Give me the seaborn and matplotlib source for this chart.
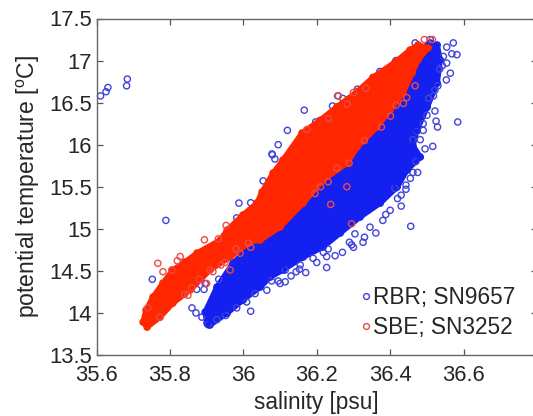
import matplotlib
matplotlib.use("Agg")
import matplotlib.pyplot as plt
import pandas as pd
import seaborn as sns

# Outline of the solid (saturated) part of each cloud
rbr_body_sal = [35.901, 35.896, 35.928, 35.972, 36.010, 36.155, 36.481, 36.509, 36.528, 36.536,
                36.528, 36.501, 36.473, 36.462, 36.482, 36.446, 36.419, 36.373, 36.318, 36.264,
                36.217, 36.163, 36.108, 36.073, 36.046, 35.999, 35.956, 35.909]
rbr_body_tmp = [13.880, 14.010, 14.307, 14.593, 14.748, 15.342, 17.125, 17.209, 17.185, 17.007,
                16.733, 16.448, 16.174, 15.990, 15.853, 15.699, 15.497, 15.306, 15.140, 14.950,
                14.783, 14.664, 14.510, 14.426, 14.307, 14.153, 13.998, 13.856]

sbe_body_sal = [35.727, 35.735, 35.754, 35.781, 35.808, 35.841, 35.874, 35.937, 35.956, 35.999,
                36.037, 36.051, 36.081, 36.108, 36.160, 36.209, 36.255, 36.310, 36.353, 36.413,
                36.454, 36.476, 36.503, 36.476, 36.460, 36.435, 36.400, 36.364, 36.310, 36.283,
                36.217, 36.163, 36.100, 36.046, 36.018, 35.964, 35.909, 35.855, 35.808, 35.773,
                35.738]
sbe_body_tmp = [13.891, 14.034, 14.189, 14.355, 14.510, 14.605, 14.712, 14.866, 14.985, 15.164,
                15.306, 15.437, 15.663, 15.818, 16.139, 16.29, 16.45, 16.63, 16.80, 16.98,
                17.125, 17.185, 17.149, 17.007, 16.852, 16.614, 16.412, 16.210, 15.972, 15.782,
                15.580, 15.306, 15.021, 14.866, 14.842, 14.664, 14.510, 14.272, 14.117, 13.950,
                13.832]

# Individually visible samples
rbr_sal = [35.611, 35.626, 35.631, 35.682, 35.684, 35.988, 36.02, 36.054, 36.078, 35.789,
           35.752, 36.02, 35.86, 35.871, 35.887, 35.873, 35.893, 35.896, 35.933, 35.982,
           36.468, 36.509, 36.572, 36.554, 36.568, 36.582, 36.554, 36.542, 36.564, 36.553,
           36.522, 36.518, 36.522, 36.525, 36.529, 36.584, 36.49, 36.473, 36.462, 36.482,
           36.516, 36.495, 36.475, 36.462, 36.443, 36.443, 36.42, 36.43, 36.413,
           36.372, 36.416, 36.311, 36.271, 36.257, 36.243, 36.166, 36.197, 36.206, 36.12,
           36.095, 36.079, 36.086,
           36.388, 36.456, 36.361, 36.326, 36.289, 36.295, 36.304, 36.231, 36.218, 36.227,
           36.19, 36.227, 36.155, 36.144, 36.153, 36.114, 36.095, 36.077, 36.114,
           35.904, 35.928, 35.952, 35.982, 36.009, 36.032, 36.064,
           36.545, 36.535, 36.530, 36.505, 36.500, 36.490, 36.470, 36.455, 36.430, 36.400,
           36.380, 36.345, 36.330, 36.300, 36.270, 36.250, 36.200, 36.170, 36.130, 36.100]
rbr_tmp = [16.58, 16.63, 16.68, 16.70, 16.78, 15.306, 15.31, 15.57, 15.89, 15.10,
           14.40, 14.02, 14.06, 14.0, 13.95, 14.28, 14.28, 14.35, 14.40, 15.13,
           17.21, 17.25, 17.21, 17.16, 17.08, 17.07, 16.97, 16.94, 16.85, 16.77,
           16.65, 16.58, 16.40, 16.28, 16.21, 16.27, 16.17, 16.16, 16.06, 16.06,
           15.98, 15.95, 15.67, 15.67, 15.52, 15.47, 15.36, 15.27, 15.48,
           16.87, 17.0, 16.66, 16.55, 16.58, 16.46, 16.41, 16.27, 16.20, 16.17,
           16.0, 15.88, 15.83,
           15.17, 15.03, 14.95, 14.84, 14.84, 14.81, 14.94, 14.76, 14.72, 14.67,
           14.65, 14.54, 14.57, 14.49, 14.52, 14.37, 14.38, 14.38, 14.51,
           13.86, 13.92, 13.97, 14.06, 14.13, 14.23, 14.27,
           17.05, 16.90, 16.70, 16.55, 16.35, 16.25, 15.80, 15.60, 15.40, 15.22,
           15.10, 15.02, 14.90, 14.78, 14.72, 14.68, 14.60, 14.48, 14.44, 14.35]

sbe_sal = [35.767, 35.781, 35.828, 35.894, 35.932, 35.953, 35.74, 35.773, 35.805, 35.849,
           35.9, 35.917, 35.964, 35.939, 36.014, 35.991, 35.909,
           36.493, 36.515, 36.468, 36.445, 36.436, 36.416, 36.401, 36.376, 36.288, 36.282,
           36.238, 36.195, 36.231, 36.295, 36.259, 36.3, 36.283, 36.232, 36.173, 36.334,
           35.86, 35.84, 35.88, 35.82, 35.95, 35.98, 36.02, 36.33, 36.255, 36.21]
sbe_tmp = [14.59, 14.49, 14.67, 14.87, 14.88, 15.04, 14.06, 13.95, 14.51, 14.21,
           14.35, 14.49, 14.51, 14.57, 14.83, 14.71, 14.51,
           17.25, 17.25, 16.70, 16.56, 16.49, 16.47, 16.34, 16.21, 15.78, 15.50,
           15.29, 15.42, 15.56, 15.06, 16.58, 16.62, 16.48, 16.31, 16.18, 16.67,
           14.30, 14.22, 14.40, 14.62, 14.60, 14.76, 14.78, 16.05, 15.72, 15.50]

x_ticks = [35.6, 35.8, 36.0, 36.2, 36.4, 36.6]
x_labels = ["35.6", "35.8", "36", "36.2", "36.4", "36.6"]
y_ticks = [13.5, 14, 14.5, 15, 15.5, 16, 16.5, 17, 17.5]
y_labels = ["13.5", "14", "14.5", "15", "15.5", "16", "16.5", "17", "17.5"]

BLUE = "#1420f0"
RED = "#ff2600"
RING_BLUE = "#4144d8"
RING_RED = "#ee4a44"
INK = "#262626"

sns.set_theme(style="ticks")
plt.rcParams["font.family"] = ["Liberation Sans", "DejaVu Sans"]
plt.rcParams["mathtext.fontset"] = "custom"
plt.rcParams["mathtext.rm"] = "Liberation Sans"

fig = plt.figure(figsize=(5.33, 4.16), dpi=100)
ax = fig.add_axes([96.5 / 533, 1 - 355 / 416, 440.5 / 533, 336.5 / 416])

ring = dict(marker="o", s=20, facecolor="none", linewidth=1.0, ax=ax, legend=False)

ax.fill(rbr_body_sal, rbr_body_tmp, color=BLUE, lw=4, zorder=2)
sns.scatterplot(data=pd.DataFrame({"s": rbr_sal, "t": rbr_tmp}),
                x="s", y="t", edgecolor=RING_BLUE, zorder=2.5, clip_on=False, **ring)
sns.scatterplot(data=pd.DataFrame({"s": rbr_body_sal, "t": rbr_body_tmp}),
                x="s", y="t", edgecolor=BLUE, zorder=2.6, clip_on=False, **ring)
ax.fill(sbe_body_sal, sbe_body_tmp, color=RED, lw=4, zorder=3)
sns.scatterplot(data=pd.DataFrame({"s": sbe_body_sal, "t": sbe_body_tmp}),
                x="s", y="t", edgecolor=RED, zorder=3.4, clip_on=False, **ring)
sns.scatterplot(data=pd.DataFrame({"s": sbe_sal, "t": sbe_tmp}),
                x="s", y="t", edgecolor=RING_RED, zorder=3.5, clip_on=False, **ring)

ax.set_xlim(35.6, 36.8)
ax.set_ylim(13.5, 17.5)
ax.set_xticks(x_ticks, x_labels)
ax.set_yticks(y_ticks, y_labels)
ax.tick_params(direction="in", top=True, right=True, length=4, width=0.9, color="#555555",
               labelsize=15.8, labelcolor=INK, pad=3.5)
ax.tick_params(axis="x", pad=7.5)
for sp in ax.spines.values():
    sp.set_color("#666666")
    sp.set_linewidth(1.0)
ax.set_xlabel("salinity [psu]", fontsize=16.3, color=INK, labelpad=3)
ax.set_ylabel("potential temperature [$^{\\mathrm{o}}$C]", fontsize=16.6, color=INK, labelpad=5)

h1 = plt.Line2D([], [], ls="none", marker="o", ms=4.2, mfc="none", mec=RING_BLUE, mew=1.0,
                label="RBR; SN9657")
h2 = plt.Line2D([], [], ls="none", marker="o", ms=4.2, mfc="none", mec=RING_RED, mew=1.0,
                label="SBE; SN3252")
leg = ax.legend(handles=[h1, h2], loc="lower left", bbox_to_anchor=(0.535, -0.012), frameon=False,
                fontsize=16.3, handletextpad=-0.3, labelspacing=0.3, labelcolor=INK, handlelength=1.2)
fig.savefig("out.png", dpi=100)
